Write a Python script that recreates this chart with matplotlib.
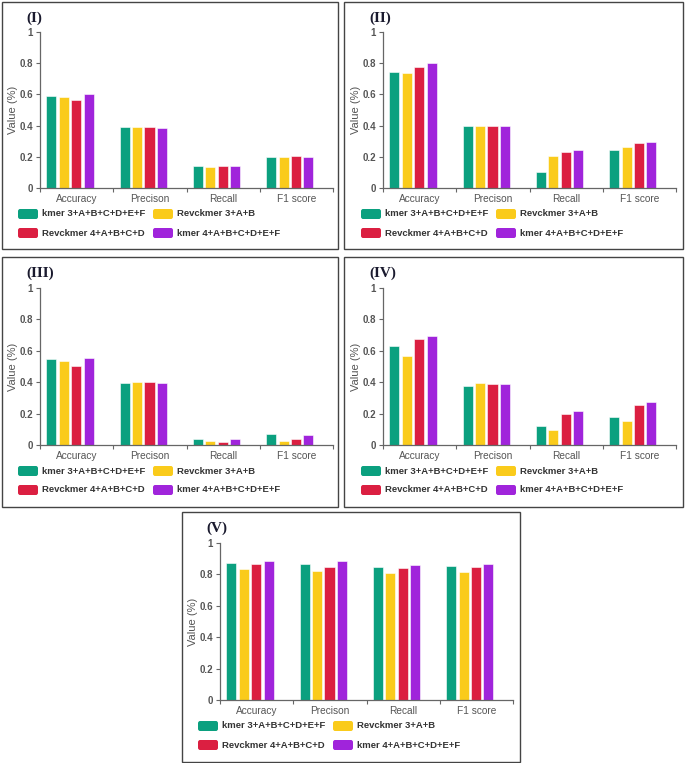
import numpy as np
import matplotlib
matplotlib.use('Agg')
import matplotlib.pyplot as plt
from matplotlib.patches import Rectangle, FancyBboxPatch

plt.rcParams['font.family'] = ['Liberation Sans', 'DejaVu Sans']

# 数据
metrics = ['Accuracy', 'Precison', 'Recall', 'F1 score']
methods = ['kmer 3+A+B+C+D+E+F', 'Revckmer 3+A+B',
           'Revckmer 4+A+B+C+D', 'kmer 4+A+B+C+D+E+F']
colors = ['#0BA07F', '#FACB1B', '#DB1F41', '#A024DB']
panel_names = ['(I)', '(II)', '(III)', '(IV)', '(V)']

# 每个子图: 行 = 方法, 列 = 指标
vals_I = [[0.592, 0.389, 0.139, 0.201],
          [0.583, 0.393, 0.132, 0.197],
          [0.562, 0.391, 0.141, 0.207],
          [0.605, 0.387, 0.139, 0.201]]
vals_II = [[0.744, 0.399, 0.102, 0.243],
           [0.736, 0.399, 0.207, 0.262],
           [0.774, 0.399, 0.232, 0.286],
           [0.800, 0.399, 0.243, 0.294]]
vals_III = [[0.549, 0.394, 0.040, 0.068],
            [0.532, 0.403, 0.023, 0.028],
            [0.504, 0.403, 0.021, 0.040],
            [0.551, 0.394, 0.036, 0.061]]
vals_IV = [[0.629, 0.377, 0.121, 0.178],
           [0.568, 0.392, 0.097, 0.150],
           [0.678, 0.390, 0.197, 0.256],
           [0.693, 0.386, 0.216, 0.275]]
vals_V = [[0.875, 0.864, 0.849, 0.856],
          [0.834, 0.824, 0.807, 0.813],
          [0.864, 0.849, 0.843, 0.845],
          [0.887, 0.883, 0.862, 0.868]]
all_vals = [vals_I, vals_II, vals_III, vals_IV, vals_V]

W, H = 685, 763
fig = plt.figure(figsize=(W / 100, H / 100), dpi=100)


def fx(x):
    return x / W


def fy(y):
    return 1 - y / H


# 面板框 (像素, 左上角原点)
boxes = [(2, 2, 338, 249), (344, 2, 683, 249),
         (2, 257, 338, 507), (344, 257, 683, 507),
         (182, 512, 520, 762)]
# 每个面板的原点偏移
origins = [(0, 0), (343, 0), (0, 255), (343, 255), (180, 510)]

gray = '#666666'
txt_gray = '#555555'
bw = 0.137
step = 0.17

for k, (vals, name) in enumerate(zip(all_vals, panel_names)):
    x0, y0, x1, y1 = boxes[k]
    fig.patches.append(Rectangle((fx(x0), fy(y1)), fx(x1 - x0), (y1 - y0) / H,
                                 transform=fig.transFigure, fill=False,
                                 edgecolor='#444444', linewidth=1.0))
    ox, oy = origins[k]
    top = 32 if k < 2 else 33
    bot = 188 if k < 2 else 190
    ax = fig.add_axes([fx(ox + 40), fy(oy + bot), (333 - 40) / W, (bot - top) / H])

    x = np.arange(len(metrics))
    for i, m in enumerate(methods):
        ax.bar(x + 0.5 - 0.09 + (i - 1.5) * step, vals[i], width=bw,
               color=colors[i], edgecolor='white', linewidth=0.4)

    ax.set_xlim(0, 4)
    ax.set_ylim(0, 1)
    ax.set_xticks(np.arange(5))
    ax.set_xticklabels([])
    ax.set_xticks(x + 0.5, minor=True)
    ax.set_xticklabels(metrics, minor=True)
    ax.tick_params(axis='x', which='minor', length=0, pad=4,
                   labelsize=7.3, labelcolor=txt_gray)
    ax.tick_params(axis='x', which='major', length=3, color=gray, direction='out')
    ax.set_yticks([0, 0.2, 0.4, 0.6, 0.8, 1])
    ax.set_yticklabels(['0', '0.2', '0.4', '0.6', '0.8', '1'])
    ax.tick_params(axis='y', length=3, color=gray, labelsize=7,
                   labelcolor=txt_gray, pad=2)
    for lab in ax.get_yticklabels():
        lab.set_fontweight('bold')
    for s in ['top', 'right']:
        ax.spines[s].set_visible(False)
    for s in ['left', 'bottom']:
        ax.spines[s].set_color(gray)
        ax.spines[s].set_linewidth(0.9)
    ax.set_ylabel('Value (%)', fontsize=8, color=txt_gray, labelpad=1)

    # 面板编号
    fig.text(fx(ox + 26), fy(oy + 18), name, fontsize=11, fontweight='bold',
             family=['Liberation Serif', 'DejaVu Serif'], color='#1a1a2e',
             ha='left', va='center')

    # 图例
    rows = [214, 233] if k < 2 else [216, 235]
    for i, m in enumerate(methods):
        cx = ox + (18 if i % 2 == 0 else 153)
        cy = oy + rows[i // 2]
        fig.patches.append(FancyBboxPatch((fx(cx), fy(cy + 5)), 20 / W, 10 / H,
                                          boxstyle='round,pad=0,rounding_size=0.003',
                                          transform=fig.transFigure,
                                          facecolor=colors[i], edgecolor='none'))
        fig.text(fx(cx + 24), fy(cy), m, fontsize=6.8, fontweight='bold',
                 color='#333333', ha='left', va='center')

fig.savefig('out.png', dpi=100)
